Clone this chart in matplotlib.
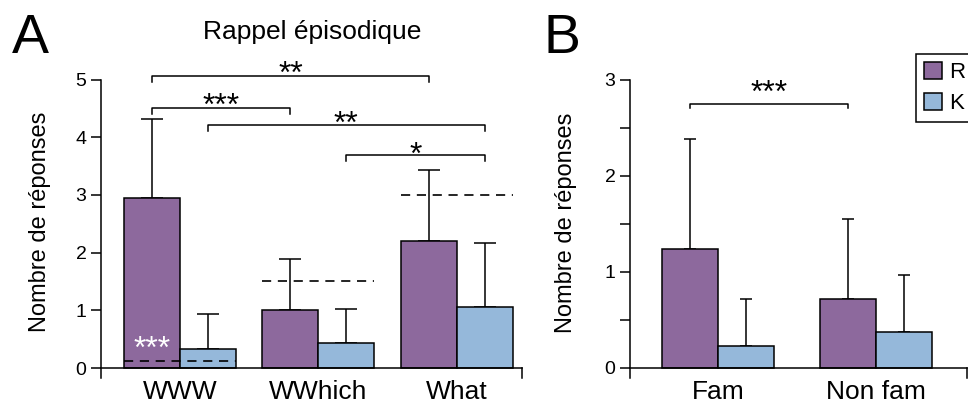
import matplotlib
matplotlib.use("Agg")
import matplotlib.pyplot as plt
import numpy as np
from matplotlib.patches import Patch

plt.rcParams['font.family'] = ['Liberation Sans', 'DejaVu Sans']

# Panel A data: episodic recall
groups_a = ["WWW", "WWhich", "What"]
r_a = [2.95, 1.01, 2.20]
r_a_err = [1.37, 0.88, 1.23]
k_a = [0.33, 0.43, 1.06]
k_a_err = [0.60, 0.59, 1.10]
chance_a = [0.13, 1.5, 3.0]
# brackets: (group, series) start, (group, series) end, bracket y, star y, label
brackets_a = [
    ((0, "R"), (2, "R"), 5.06, 5.25, "**"),
    ((0, "R"), (1, "R"), 4.50, 4.70, "***"),
    ((0, "K"), (2, "K"), 4.21, 4.40, "**"),
    ((1, "K"), (2, "K"), 3.69, 3.85, "*"),
]

# Panel B data
groups_b = ["Fam", "Non fam"]
r_b = [1.24, 0.72]
r_b_err = [1.14, 0.83]
k_b = [0.23, 0.37]
k_b_err = [0.49, 0.60]
brackets_b = [((0, "R"), (1, "R"), 2.75, 2.96, "***")]

purple = "#8D699D"
blue = "#95B8DA"
lw = 1.1
star_fs = 23

fig = plt.figure(figsize=(9.68, 3.99), dpi=100)


def star(ax, x, y, s, color="k"):
    # place text so the asterisk ink is centred on y
    ax.annotate(s, (x, y), xytext=(0, -0.573 * star_fs), textcoords="offset points",
                ha="center", va="baseline", fontsize=star_fs, color=color,
                annotation_clip=False)


def panel(ax, groups, r, r_err, k, k_err, w, xlim, ylim, capsize, brackets, leg):
    x = np.arange(len(groups))
    ax.bar(x - w / 2, r, w, color=purple, edgecolor="k", linewidth=lw, zorder=2)
    ax.bar(x + w / 2, k, w, color=blue, edgecolor="k", linewidth=lw, zorder=2)
    zeros = np.zeros(len(groups))
    ax.errorbar(x - w / 2, r, yerr=[zeros, r_err], fmt="none", ecolor="k",
                elinewidth=lw, capsize=capsize, capthick=lw, zorder=1)
    ax.errorbar(x + w / 2, k, yerr=[zeros, k_err], fmt="none", ecolor="k",
                elinewidth=lw, capsize=capsize, capthick=lw, zorder=1)
    for (g1, s1), (g2, s2), yb, ys, lab in brackets:
        x1 = g1 + (-w / 2 if s1 == "R" else w / 2)
        x2 = g2 + (-w / 2 if s2 == "R" else w / 2)
        ax.plot([x1, x1, x2, x2], [yb - leg, yb, yb, yb - leg], color="k",
                lw=lw, clip_on=False)
        star(ax, (x1 + x2) / 2, ys, lab)
    ax.set_xlim(*xlim)
    ax.set_ylim(*ylim)
    ax.spines["top"].set_visible(False)
    ax.spines["right"].set_visible(False)
    ax.spines["bottom"].set_position(("data", 0))
    for sp in ax.spines.values():
        sp.set_linewidth(lw)
    ax.plot([xlim[1], xlim[1]], [0, ylim[0]], color="k", lw=lw, clip_on=False)
    ax.set_xticks(x)
    ax.set_xticklabels(groups, fontsize=19)
    ax.tick_params(axis="x", length=0, pad=8.5)
    ax.tick_params(axis="y", direction="out", length=7, width=lw, labelsize=14, pad=3.5)
    ax.set_ylabel("Nombre de réponses", fontsize=17)
    return x


axA = fig.add_axes([101 / 968, 21 / 399, 421 / 968, 298.5 / 399])
wa = 0.404
xa = panel(axA, groups_a, r_a, r_a_err, k_a, k_a_err, wa, (-0.57, 2.47), (-0.173, 5),
           8, brackets_a, 0.1)
for xi, c in zip(xa, chance_a):
    axA.plot([xi - wa, xi + wa], [c, c], color="k", lw=1.2, dashes=(5.5, 4), zorder=3)
star(axA, xa[0] - wa / 2, 0.50, "***", color="white")
axA.set_yticks([0, 1, 2, 3, 4, 5])
axA.yaxis.set_label_coords(-0.118, 0.524)

axB = fig.add_axes([630 / 968, 21 / 399, 337 / 968, 298.5 / 399])
wb = 0.354
panel(axB, groups_b, r_b, r_b_err, k_b, k_b_err, wb, (-0.557, 1.576), (-0.104, 3),
      4.5, brackets_b, 0.05)
axB.set_yticks([0, 0.5, 1, 1.5, 2, 2.5, 3])
axB.set_yticklabels(["0", "", "1", "", "2", "", "3"])
axB.yaxis.set_label_coords(-0.157, 0.52)

fig.text(0.322, 1 - 39.5 / 399, "Rappel épisodique", fontsize=19, ha="center", va="baseline")
fig.text(12 / 968, 1 - 53 / 399, "A", fontsize=40, va="baseline")
fig.text(544 / 968, 1 - 53 / 399, "B", fontsize=40, va="baseline")

handles = [Patch(facecolor=purple, edgecolor="k", linewidth=lw),
           Patch(facecolor=blue, edgecolor="k", linewidth=lw)]
leg = fig.legend(handles, ["R", "K"], loc="upper left", bbox_to_anchor=(916 / 968, 1 - 54 / 399),
                 borderaxespad=0, fontsize=16, handlelength=0.8, handleheight=0.8,
                 handletextpad=0.35, labelspacing=0.45, borderpad=0.35, fancybox=False,
                 framealpha=1)
leg.get_frame().set_edgecolor("k")
leg.get_frame().set_linewidth(lw)

fig.savefig("out.png", dpi=100)
